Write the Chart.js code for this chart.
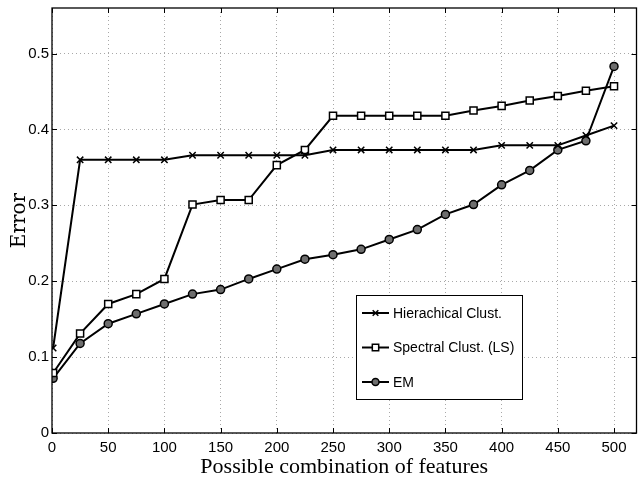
<!DOCTYPE html>
<html>
<head>
<meta charset="utf-8">
<script src="https://cdn.jsdelivr.net/npm/chart.js@4/dist/chart.umd.min.js"></script>
<style>
  html, body { margin: 0; padding: 0; background: #fff; }
  #wrap { width: 643px; height: 477px; }
</style>
</head>
<body>
<div id="wrap"><canvas id="chart" width="643" height="477"></canvas></div>
<script>
const features = [1, 25, 50, 75, 100, 125, 150, 175, 200, 225, 250, 275, 300, 325, 350, 375, 400, 425, 450, 475, 500];
const hierarchical = [0.112, 0.360, 0.360, 0.360, 0.360, 0.366, 0.366, 0.366, 0.366, 0.366, 0.373, 0.373, 0.373, 0.373, 0.373, 0.373, 0.379, 0.379, 0.379, 0.392, 0.405];
const spectral = [0.079, 0.131, 0.170, 0.183, 0.203, 0.301, 0.307, 0.307, 0.353, 0.373, 0.418, 0.418, 0.418, 0.418, 0.418, 0.425, 0.431, 0.438, 0.444, 0.451, 0.457];
const em = [0.072, 0.118, 0.144, 0.157, 0.170, 0.183, 0.189, 0.203, 0.216, 0.229, 0.235, 0.242, 0.255, 0.268, 0.288, 0.301, 0.327, 0.346, 0.373, 0.385, 0.483];
const seriesNames = ["Hierachical Clust.", "Spectral Clust. (LS)", "EM"];

const sansFont = "'Liberation Sans', Arial, sans-serif";
const serifFont = "'Liberation Serif', 'DejaVu Serif', serif";

const toPoints = vals => vals.map((v, i) => ({ x: features[i], y: v }));

// frame + inward tick marks like matlab
const frameTicks = {
  id: "frameTicks",
  afterDraw(chart) {
    const { ctx, chartArea: a, scales } = chart;
    ctx.save();
    ctx.strokeStyle = "#000";
    ctx.lineWidth = 1;
    const len = 5;
    scales.x.ticks.forEach(t => {
      const px = Math.round(scales.x.getPixelForValue(t.value)) + 0.5;
      ctx.beginPath();
      ctx.moveTo(px, a.bottom); ctx.lineTo(px, a.bottom - len);
      ctx.moveTo(px, a.top); ctx.lineTo(px, a.top + len);
      ctx.stroke();
    });
    scales.y.ticks.forEach(t => {
      const py = Math.round(scales.y.getPixelForValue(t.value)) + 0.5;
      ctx.beginPath();
      ctx.moveTo(a.left, py); ctx.lineTo(a.left + len, py);
      ctx.moveTo(a.right, py); ctx.lineTo(a.right - len, py);
      ctx.stroke();
    });
    ctx.lineWidth = 1.3;
    ctx.strokeRect(a.left, a.top, a.right - a.left, a.bottom - a.top);
    ctx.restore();
  }
};

// legend box inside the plot, lower right
const boxLegend = {
  id: "boxLegend",
  afterDraw(chart) {
    const { ctx, chartArea: a } = chart;
    const x0 = a.left + 304, y0 = a.top + 287, w = 166, h = 104;
    ctx.save();
    ctx.fillStyle = "#fff";
    ctx.fillRect(x0, y0, w, h);
    ctx.strokeStyle = "#000";
    ctx.lineWidth = 1;
    ctx.strokeRect(x0 + 0.5, y0 + 0.5, w, h);
    ctx.font = "14px " + sansFont;
    ctx.textBaseline = "middle";
    chart.data.datasets.forEach((ds, i) => {
      const yy = y0 + 18 + i * 34.5;
      ctx.strokeStyle = "#000";
      ctx.lineWidth = 2;
      ctx.beginPath();
      ctx.moveTo(x0 + 6, yy); ctx.lineTo(x0 + 33, yy);
      ctx.stroke();
      ctx.fillStyle = ds.pointBackgroundColor;
      ctx.strokeStyle = "#000";
      ctx.lineWidth = 1.5;
      Chart.helpers.drawPoint(ctx, { pointStyle: ds.pointStyle, radius: ds.pointRadius - 0.5, borderWidth: 1.5 }, x0 + 19.5, yy);
      ctx.fillStyle = "#000";
      ctx.fillText(ds.label, x0 + 37, yy + 1);
    });
    ctx.restore();
  }
};

const base = {
  borderColor: "#000",
  borderWidth: 2,
  pointBorderColor: "#000",
  pointBorderWidth: 1.5,
  tension: 0
};

new Chart(document.getElementById("chart"), {
  type: "line",
  data: {
    datasets: [
      Object.assign({}, base, { label: seriesNames[0], data: toPoints(hierarchical), pointStyle: "crossRot", pointRadius: 4.5, pointBackgroundColor: "#000" }),
      Object.assign({}, base, { label: seriesNames[1], data: toPoints(spectral), pointStyle: "rect", pointRadius: 5, pointBackgroundColor: "#fff" }),
      Object.assign({}, base, { label: seriesNames[2], data: toPoints(em), pointStyle: "circle", pointRadius: 4, pointBackgroundColor: "#6e6e6e" })
    ]
  },
  options: {
    responsive: false,
    animation: false,
    layout: { padding: { top: 8, right: 1, left: 0, bottom: 0 } },
    plugins: { legend: { display: false }, tooltip: { enabled: false } },
    scales: {
      x: {
        type: "linear",
        min: 0, max: 520,
        afterFit(s) { s.height = 44; s.paddingLeft = 0; s.paddingRight = 0; },
        ticks: { stepSize: 50, includeBounds: false, color: "#000", padding: 6, maxRotation: 0,
          font: { family: sansFont, size: 15 } },
        grid: { color: "#a8a8a8", lineWidth: 1, drawTicks: false },
        border: { display: false, dash: [1, 3] },
        title: { display: true, text: "Possible combination of features", color: "#000", padding: { top: 5, bottom: -3 },
          font: { family: serifFont, size: 22 } }
      },
      y: {
        min: 0, max: 0.56,
        afterFit(s) { s.width = 52; s.paddingTop = 0; s.paddingBottom = 0; },
        ticks: { stepSize: 0.1, includeBounds: false, color: "#000", padding: 3,
          callback: v => +v.toFixed(1) + "",
          font: { family: sansFont, size: 15 } },
        grid: { color: "#a8a8a8", lineWidth: 1, drawTicks: false },
        border: { display: false, dash: [1, 3] },
        title: { display: true, text: "Error", color: "#000", padding: { top: 8, bottom: 1 },
          font: { family: "'DejaVu Serif', serif", size: 20 } }
      }
    }
  },
  plugins: [frameTicks, boxLegend]
});
</script>
</body>
</html>
